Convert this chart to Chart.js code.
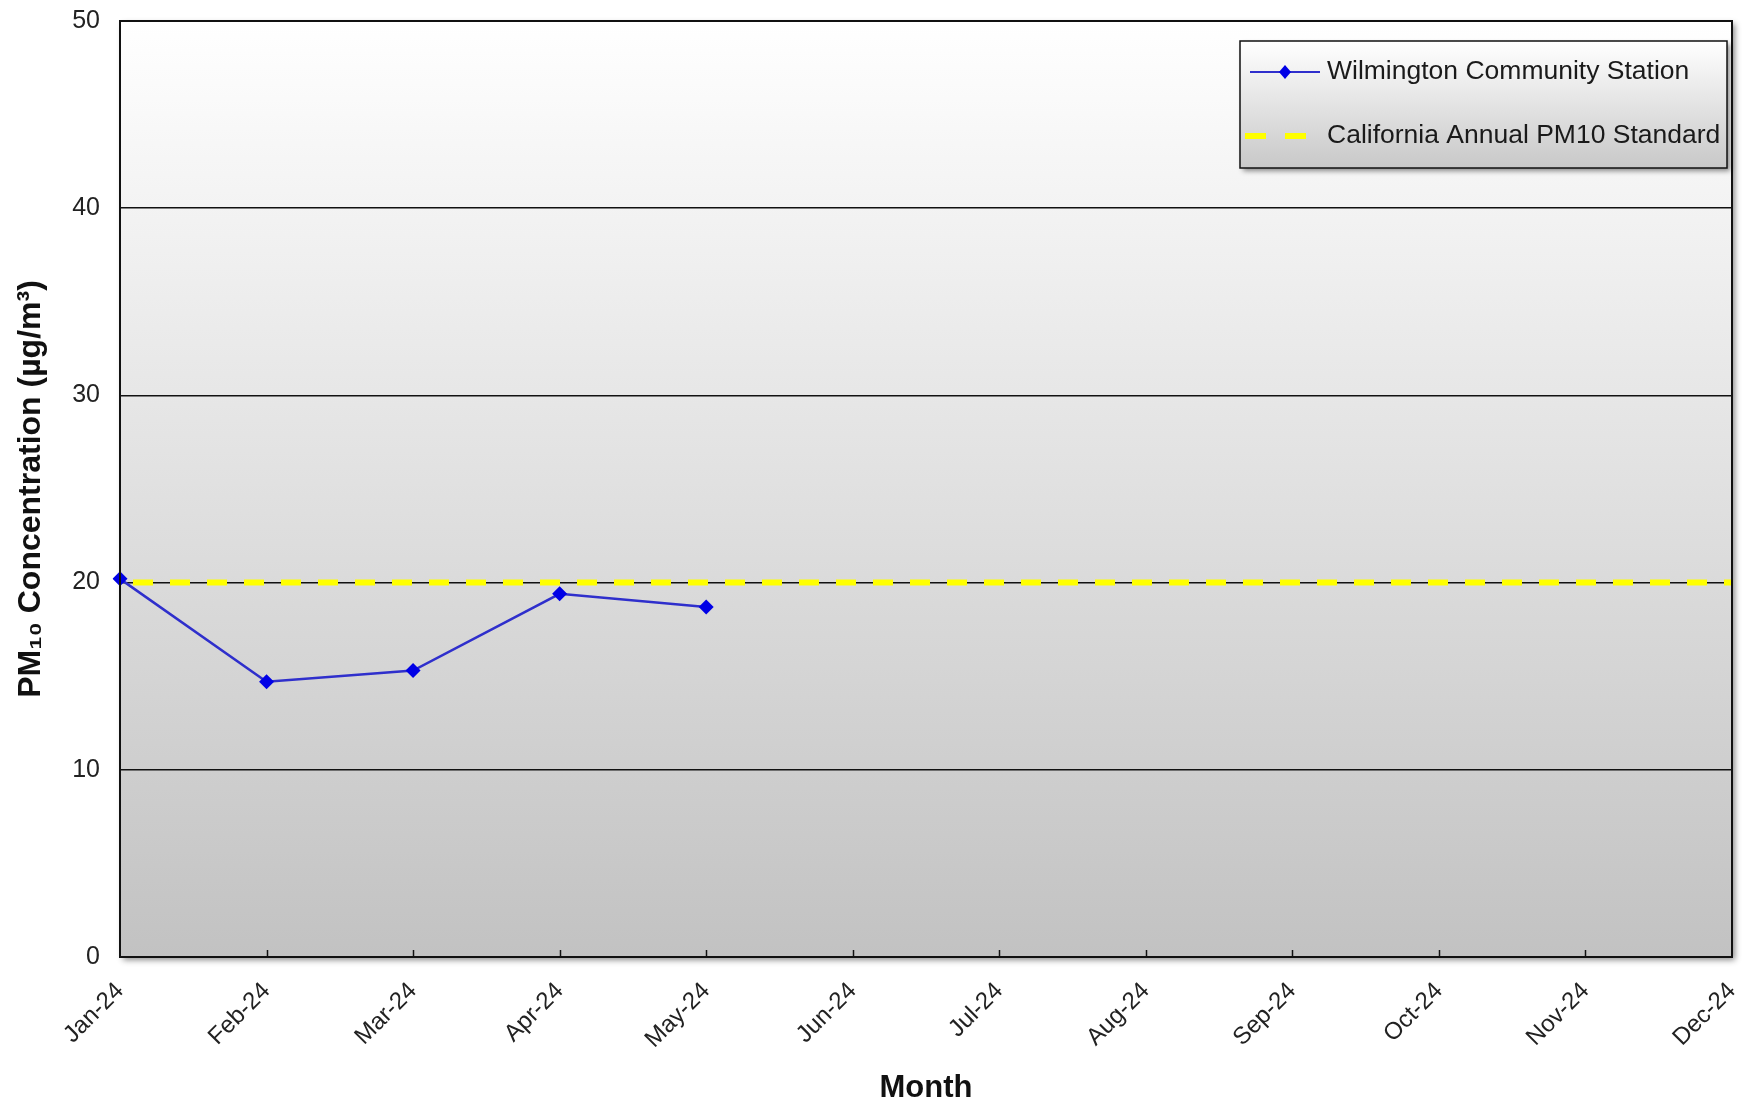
<!DOCTYPE html>
<html>
<head>
<meta charset="utf-8">
<script src="https://cdn.jsdelivr.net/npm/chart.js@4/dist/chart.umd.min.js"></script>
<style>
  html, body { margin: 0; padding: 0; background: #ffffff; }
  #wrap { width: 1749px; height: 1106px; position: relative; }
</style>
</head>
<body>
<div id="wrap"><canvas id="c" width="1749" height="1106"></canvas></div>
<script>
// ---- Data ----
const months = ['Jan-24','Feb-24','Mar-24','Apr-24','May-24','Jun-24','Jul-24','Aug-24','Sep-24','Oct-24','Nov-24','Dec-24'];
const wilmington = [20.2, 14.7, 15.3, 19.4, 18.7, null, null, null, null, null, null, null];
const standardPM10 = [20, 20, 20, 20, 20, 20, 20, 20, 20, 20, 20, 20];
const seriesLabels = ['Wilmington Community Station', 'California Annual PM10 Standard'];
const yTitle = 'PM\u2081\u2080 Concentration (\u00B5g/m\u00B3)';
const xTitle = 'Month';

const NARROW = "'Liberation Sans Narrow', 'Arial Narrow', 'Liberation Sans', Arial, sans-serif";
const SANS = "'Liberation Sans', Arial, sans-serif";

const bgPlugin = {
  id: 'bgPlugin',
  beforeDraw(chart) {
    const { ctx, chartArea: a } = chart;
    ctx.save();
    const g = ctx.createLinearGradient(0, a.top, 0, a.bottom);
    g.addColorStop(0, '#ffffff');
    g.addColorStop(1, '#c2c2c2');
    ctx.shadowColor = 'rgba(0,0,0,0.45)';
    ctx.shadowBlur = 6;
    ctx.shadowOffsetX = 3;
    ctx.shadowOffsetY = 3;
    ctx.fillStyle = g;
    ctx.fillRect(a.left, a.top, a.right - a.left, a.bottom - a.top);
    ctx.restore();
  },
  afterDatasetsDraw(chart) {
    const { ctx, chartArea: a, scales } = chart;
    ctx.save();
    ctx.strokeStyle = '#111';
    ctx.lineWidth = 2;
    ctx.strokeRect(a.left, a.top, a.right - a.left, a.bottom - a.top);
    ctx.lineWidth = 1.5;
    for (let i = 1; i < months.length - 1; i++) {
      const x = Math.round(scales.x.getPixelForValue(i)) + 0.5;
      ctx.beginPath();
      ctx.moveTo(x, a.bottom);
      ctx.lineTo(x, a.bottom - 7);
      ctx.stroke();
    }
    ctx.restore();
  },
  afterDraw(chart) {
    const { ctx } = chart;
    const ds = chart.data.datasets;
    const bx = 1240, by = 41, bw = 487, bh = 127;
    ctx.save();
    const g = ctx.createLinearGradient(0, by, 0, by + bh);
    g.addColorStop(0, '#ffffff');
    g.addColorStop(1, '#c8c8c8');
    ctx.shadowColor = 'rgba(0,0,0,0.45)';
    ctx.shadowBlur = 5;
    ctx.shadowOffsetX = 3;
    ctx.shadowOffsetY = 3;
    ctx.fillStyle = g;
    ctx.fillRect(bx, by, bw, bh);
    ctx.shadowColor = 'transparent';
    ctx.strokeStyle = '#111';
    ctx.lineWidth = 1.5;
    ctx.strokeRect(bx, by, bw, bh);

    const y1 = 72;
    ctx.strokeStyle = ds[0].borderColor;
    ctx.lineWidth = 2.2;
    ctx.beginPath();
    ctx.moveTo(1250, y1); ctx.lineTo(1320, y1); ctx.stroke();
    ctx.fillStyle = ds[0].pointBackgroundColor;
    ctx.beginPath();
    ctx.moveTo(1285, y1 - 7); ctx.lineTo(1291, y1); ctx.lineTo(1285, y1 + 7); ctx.lineTo(1279, y1); ctx.closePath();
    ctx.fill();
    const y2 = 136;
    ctx.strokeStyle = ds[1].borderColor;
    ctx.lineWidth = 6;
    ctx.beginPath();
    ctx.moveTo(1245, y2); ctx.lineTo(1266, y2);
    ctx.moveTo(1285, y2); ctx.lineTo(1306, y2);
    ctx.stroke();

    ctx.fillStyle = '#1a1a1a';
    ctx.font = '26.5px ' + SANS;
    ctx.textBaseline = 'middle';
    ctx.textAlign = 'left';
    ctx.fillText(ds[0].label, 1327, y1);
    ctx.fillText(ds[1].label, 1327, y2);
    ctx.restore();
  }
};

new Chart(document.getElementById('c'), {
  type: 'line',
  data: {
    labels: months,
    datasets: [
      {
        label: seriesLabels[0],
        data: wilmington,
        borderColor: '#2f2fcc',
        borderWidth: 2.5,
        pointStyle: 'rectRot',
        pointRadius: 7.5,
        pointBackgroundColor: '#0000e6',
        pointBorderColor: '#0000e6',
        pointBorderWidth: 0,
        spanGaps: false,
        tension: 0,
        order: 1
      },
      {
        label: seriesLabels[1],
        data: standardPM10,
        borderColor: '#ffff00',
        borderWidth: 6,
        borderDash: [20, 17],
        borderDashOffset: 24,
        borderCapStyle: 'butt',
        pointRadius: 0,
        tension: 0,
        order: 2
      }
    ]
  },
  options: {
    responsive: false,
    animation: false,
    events: [],
    layout: { padding: { top: 21, right: 17, left: 0, bottom: 0 } },
    plugins: { legend: { display: false }, tooltip: { enabled: false } },
    scales: {
      x: {
        type: 'category',
        offset: false,
        grid: { display: false, drawTicks: false },
        border: { display: true, color: '#111', width: 2 },
        ticks: {
          color: '#222',
          font: { family: SANS, size: 24 },
          minRotation: 45,
          maxRotation: 45,
          autoSkip: false,
          padding: 20
        },
        title: {
          display: true,
          text: xTitle,
          color: '#111',
          font: { family: SANS, size: 31, weight: 'bold', lineHeight: 1 },
          padding: { top: 0, bottom: 2 }
        },
        afterFit(scale) {
          scale.height = 149;
          scale.paddingLeft = 0; scale.paddingRight = 0;
          scale.paddingTop = 0; scale.paddingBottom = 0;
        }
      },
      y: {
        min: 0,
        max: 50,
        ticks: {
          stepSize: 10,
          color: '#222',
          font: { family: NARROW, size: 25 },
          padding: 20
        },
        grid: { color: '#111', lineWidth: 1.5, drawTicks: false },
        border: { display: true, color: '#111', width: 2 },
        title: {
          display: true,
          text: yTitle,
          color: '#111',
          font: { family: SANS, size: 32, weight: 'bold', lineHeight: 1 },
          padding: { top: 15, bottom: 0 }
        },
        afterFit(scale) {
          scale.width = 120;
          scale.paddingLeft = 0; scale.paddingRight = 0;
          scale.paddingTop = 0; scale.paddingBottom = 0;
        }
      }
    }
  },
  plugins: [bgPlugin]
});
</script>
</body>
</html>
